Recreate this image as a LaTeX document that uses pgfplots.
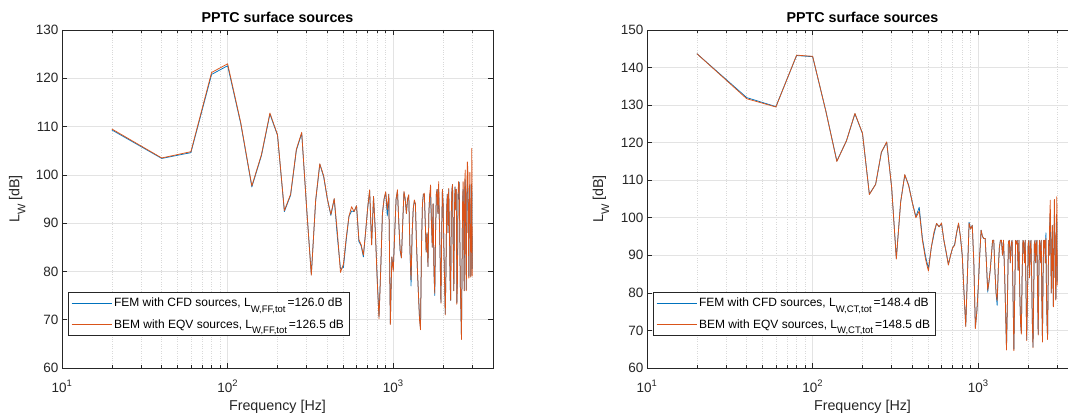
\documentclass[border=0pt]{standalone}
\usepackage{fontspec}
\setmainfont{Liberation Sans}
\usepackage{pgfplots}
\usepackage{pgfplotstable}
\pgfplotsset{compat=1.18}

\definecolor{mblue}{RGB}{0,114,189}
\definecolor{morange}{RGB}{217,83,25}
\definecolor{axgray}{RGB}{38,38,38}

% MATLAB-like subscripts
\newcommand{\legsub}[1]{\raisebox{-5.5bp}{\fontsize{9.5bp}{9.5bp}\selectfont #1}\,}
\newcommand{\labsub}[1]{\raisebox{-6bp}{\fontsize{11bp}{11bp}\selectfont #1}}

% f [Hz], FEM with CFD sources, BEM with EQV sources
\pgfplotstableread{
f fem bem
20 109.3 109.5
40 103.4 103.5
60 104.6 104.8
80 120.8 121.2
100 122.6 123.0
120 110.6 110.8
140 97.5 97.7
160 104.0 104.2
180 112.6 112.8
200 108.2 108.3
220 92.4 92.6
240 95.8 96.0
260 105.1 105.3
280 108.6 108.8
300 93.0 93.0
320 79.4 79.2
340 94.6 94.8
360 102.2 102.3
380 99.6 99.8
400 95.0 95.0
420 91.6 91.8
440 95.0 95.1
460 87.0 88.0
480 80.6 79.8
500 80.8 81.5
520 86.5 87.0
540 91.4 91.4
560 92.5 93.4
580 92.4 92.4
600 93.6 93.6
620 86.2 86.6
640 85.3 85.5
660 83.0 83.4
680 88.0 88.0
700 93.0 93.0
720 96.7 96.9
740 85.5 85.5
760 95.5 95.5
780 88.0 88.0
800 78.5 78.0
820 70.6 70.2
840 80.5 80.5
860 92.0 92.0
880 95.0 95.0
900 96.3 96.5
920 91.5 92.8
940 96.0 96.0
960 69.2 69.0
980 83.0 83.0
1000 80.4 80.0
1020 88.0 88.0
1040 95.0 95.0
1060 96.7 96.9
1080 90.0 90.0
1100 84.2 84.5
1120 82.8 82.8
1140 90.0 90.0
1160 96.4 96.6
1180 95.0 95.0
1200 92.0 92.0
1220 95.0 95.0
1240 95.7 95.9
1260 85.0 85.0
1280 77.0 78.3
1300 88.0 88.0
1320 93.0 93.0
1340 94.5 94.8
1360 94.0 94.0
1380 86.0 86.0
1400 80.0 80.0
1420 75.0 75.0
1440 70.5 70.0
1460 68.2 67.9
1480 85.0 85.0
1500 94.0 94.0
1520 96.0 96.0
1540 96.0 96.2
1560 90.0 90.0
1580 84.0 84.0
1600 88.0 88.0
1620 81.0 81.0
1640 92.0 92.0
1660 96.0 96.0
1680 95.5 97.9
1700 90.0 90.0
1720 85.0 85.0
1740 94.0 94.0
1760 80.0 80.0
1780 75.0 75.5
1800 88.0 88.0
1820 96.0 96.0
1840 97.0 97.0
1860 92.0 92.0
1880 97.0 98.6
1900 90.0 90.0
1920 82.0 82.0
1940 73.6 73.4
1960 88.0 88.0
1980 97.0 97.0
2000 94.0 94.0
2020 85.0 85.0
2040 78.0 78.0
2060 71.2 71.0
2080 80.0 80.0
2100 93.0 93.0
2120 96.0 96.0
2140 88.0 88.0
2160 97.0 97.2
2180 90.0 90.0
2200 79.0 79.0
2220 74.0 74.0
2240 92.0 92.0
2260 97.0 97.0
2280 98.0 98.0
2300 84.0 84.0
2320 76.0 76.0
2340 93.0 93.0
2360 97.5 97.5
2380 92.8 92.8
2400 97.0 97.0
2420 73.5 73.2
2440 80.0 78.0
2460 96.0 96.0
2480 95.0 98.6
2500 98.5 98.0
2520 88.0 88.0
2540 77.0 77.0
2560 72.0 72.0
2580 66.2 65.9
2600 80.0 80.0
2620 94.0 94.0
2640 97.0 98.6
2660 90.0 90.0
2680 76.0 76.0
2700 97.0 98.6
2720 99.0 101.0
2740 85.0 85.0
2760 76.2 76.0
2780 96.0 96.0
2800 98.0 102.7
2820 97.5 101.0
2840 88.0 88.0
2860 79.0 78.6
2880 95.0 95.0
2900 98.0 100.5
2920 90.0 90.0
2940 79.0 78.8
2960 88.0 88.0
2980 98.0 105.5
3000 80.5 79.0
}\leftdata

\pgfplotstableread{
f fem bem
20 143.7 143.7
40 132.0 131.7
60 129.6 129.5
80 143.2 143.3
100 142.9 143.0
120 128.5 128.5
140 115.1 115.0
160 120.5 120.5
180 127.7 127.8
200 122.4 122.5
220 106.3 106.2
240 108.9 108.9
260 117.4 117.5
280 120.1 120.2
300 108.0 108.0
320 89.2 89.0
340 104.3 104.2
360 111.4 111.5
380 108.7 108.5
400 104.0 104.0
420 100.3 100.0
440 102.8 101.8
460 94.5 94.0
480 89.8 89.0
500 86.5 85.8
520 92.0 92.0
540 95.6 96.2
560 98.5 98.5
580 97.6 97.6
600 98.4 98.6
620 94.0 94.0
640 90.7 90.9
660 87.6 87.4
680 90.0 90.0
700 92.0 92.0
720 92.9 92.7
740 96.0 96.0
760 98.4 98.6
780 95.0 95.0
800 90.0 90.0
820 80.0 80.0
840 71.2 71.0
860 85.0 85.0
880 98.8 98.5
900 97.0 97.0
920 98.0 98.0
940 88.0 88.0
960 70.8 70.5
980 75.0 75.0
1000 81.6 81.6
1020 90.0 90.0
1040 96.7 96.7
1060 95.0 95.0
1080 94.5 94.5
1100 94.5 94.5
1120 88.0 88.0
1140 80.2 80.7
1160 83.0 83.0
1180 86.0 86.0
1200 90.0 90.0
1220 94.0 94.0
1240 94.0 94.0
1260 86.0 86.0
1280 80.0 80.0
1300 76.7 78.0
1320 86.0 86.0
1340 92.0 92.0
1360 94.0 94.0
1380 94.0 94.0
1400 90.0 90.0
1420 94.0 94.0
1440 86.0 86.0
1460 76.0 76.0
1480 65.3 64.8
1500 78.0 78.0
1520 93.6 93.6
1540 94.0 94.0
1560 88.0 88.0
1580 93.0 93.0
1600 94.0 94.0
1620 80.0 80.0
1640 65.0 64.6
1660 80.0 80.0
1680 94.0 94.0
1700 93.0 93.0
1720 94.0 94.0
1740 86.0 86.0
1760 94.0 94.0
1780 80.0 80.0
1800 72.0 72.0
1820 69.3 69.0
1840 85.0 85.0
1860 94.0 94.0
1880 93.5 93.5
1900 88.0 88.0
1920 94.0 94.0
1940 82.0 82.0
1960 67.5 67.3
1980 78.0 78.0
2000 93.0 93.0
2020 94.0 94.0
2040 84.0 84.0
2060 92.3 92.3
2080 94.0 94.0
2100 84.0 84.0
2120 72.0 72.0
2140 65.6 65.4
2160 80.0 80.0
2180 93.0 93.0
2200 94.0 94.0
2220 88.0 88.0
2240 93.1 93.1
2260 94.0 94.0
2280 80.0 80.0
2300 69.0 68.8
2320 84.0 84.0
2340 94.0 94.0
2360 93.0 93.0
2380 88.0 88.0
2400 94.0 94.0
2420 78.0 78.0
2440 67.2 66.9
2460 84.0 84.0
2480 94.0 94.0
2500 92.0 92.0
2520 94.0 94.0
2540 88.0 88.0
2560 96.0 94.5
2580 80.0 80.0
2600 72.0 72.0
2620 67.8 67.6
2640 82.0 82.0
2660 94.0 94.0
2680 90.0 90.0
2700 98.0 100.0
2720 101.0 104.7
2740 92.0 92.0
2760 80.0 80.0
2780 90.0 90.0
2800 98.0 98.0
2820 86.0 86.0
2840 76.5 76.3
2860 92.0 92.0
2880 101.0 104.9
2900 96.0 96.0
2920 84.0 84.0
2940 78.3 78.1
2960 95.0 95.0
2980 100.3 105.6
3000 83.0 82.0
}\rightdata

\pgfplotsset{
  legend image code/.code={\draw[#1] (0bp,0bp) -- (40bp,0bp);},
  every axis plot/.append style={line width=0.75bp, line join=round},
  every axis title/.append style={font=\bfseries\fontsize{14.3bp}{16bp}\selectfont, yshift=-2bp},
  every axis label/.append style={font=\fontsize{14.3bp}{16bp}\selectfont, text=axgray},
  every tick label/.append style={font=\fontsize{13.5bp}{15bp}\selectfont, text=axgray},
}

\begin{document}
\begin{tikzpicture}
\begin{axis}[at={(62bp,45bp)}, anchor=south west,
    xmode=log, scale only axis, width=431bp, height=338bp,
    xmin=10, xmax=4000, ymin=60, ymax=130,
    xtick={10,100,1000},
    xticklabels={10\textsuperscript{1},10\textsuperscript{2},10\textsuperscript{3}},
    minor xtick={20,30,40,50,60,70,80,90,200,300,400,500,600,700,800,900,2000,3000,4000},
    ytick={60,70,80,90,100,110,120,130},
    xticklabel style={anchor=base, yshift=-24bp},
    xmajorgrids, xminorgrids, ymajorgrids,
    major grid style={gray!22, line width=0.6bp},
    minor grid style={gray!30, dotted, line width=0.6bp},
    axis line style={axgray, line width=0.6bp},
    tick style={axgray, line width=0.6bp},
    tick align=inside, major tick length=5bp, minor tick length=3bp,
    /pgf/number format/assume math mode=true,
    title={PPTC surface sources},
    xlabel={Frequency [Hz]},
    xlabel style={at={(axis description cs:0.5,0)}, anchor=base, yshift=-42bp},
    ylabel={L\labsub{W} [dB]},
    ylabel style={at={(axis description cs:-0.104,0.5)}, anchor=center},
    legend style={at={(0.014,0.095)}, anchor=south west, draw=axgray,
      line width=0.6bp, fill=white, font=\fontsize{12bp}{14bp}\selectfont,
      inner xsep=3bp, inner ysep=4bp, row sep=7bp},
    legend cell align=left]
  \addplot[mblue] table[x=f, y=fem]{\leftdata};
  \addplot[morange] table[x=f, y=bem]{\leftdata};
  \legend{FEM with CFD sources{,} L\legsub{W,FF,tot}=126.0 dB,
          BEM with EQV sources{,} L\legsub{W,FF,tot}=126.5 dB}
\end{axis}
\begin{axis}[at={(647bp,45bp)}, anchor=south west,
    xmode=log, scale only axis, width=431bp, height=338bp,
    xmin=10, xmax=4000, ymin=60, ymax=150,
    xtick={10,100,1000},
    xticklabels={10\textsuperscript{1},10\textsuperscript{2},10\textsuperscript{3}},
    minor xtick={20,30,40,50,60,70,80,90,200,300,400,500,600,700,800,900,2000,3000,4000},
    ytick={60,70,80,90,100,110,120,130,140,150},
    xticklabel style={anchor=base, yshift=-24bp},
    xmajorgrids, xminorgrids, ymajorgrids,
    major grid style={gray!22, line width=0.6bp},
    minor grid style={gray!30, dotted, line width=0.6bp},
    axis line style={axgray, line width=0.6bp},
    tick style={axgray, line width=0.6bp},
    tick align=inside, major tick length=5bp, minor tick length=3bp,
    /pgf/number format/assume math mode=true,
    title={PPTC surface sources},
    xlabel={Frequency [Hz]},
    xlabel style={at={(axis description cs:0.5,0)}, anchor=base, yshift=-42bp},
    ylabel={L\labsub{W} [dB]},
    ylabel style={at={(axis description cs:-0.107,0.5)}, anchor=center},
    legend style={at={(0.014,0.095)}, anchor=south west, draw=axgray,
      line width=0.6bp, fill=white, font=\fontsize{12bp}{14bp}\selectfont,
      inner xsep=3bp, inner ysep=4bp, row sep=7bp},
    legend cell align=left]
  \addplot[mblue] table[x=f, y=fem]{\rightdata};
  \addplot[morange] table[x=f, y=bem]{\rightdata};
  \legend{FEM with CFD sources{,} L\legsub{W,CT,tot}=148.4 dB,
          BEM with EQV sources{,} L\legsub{W,CT,tot}=148.5 dB}
\end{axis}
\pgfresetboundingbox
\useasboundingbox (0,0) rectangle (1068bp,413bp);
\end{tikzpicture}
\end{document}
